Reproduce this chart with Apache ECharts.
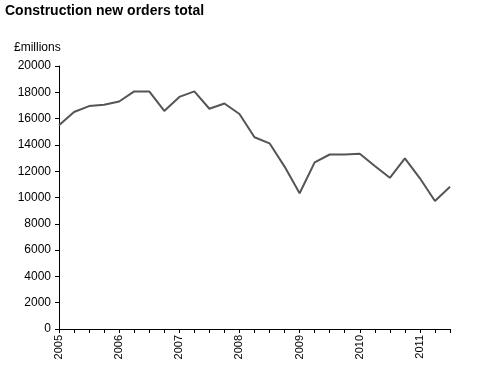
<!DOCTYPE html>
<html><head><meta charset="utf-8">
<script src="https://cdn.jsdelivr.net/npm/echarts@6/dist/echarts.min.js"></script>
<style>html,body{margin:0;padding:0;background:#fff}#c{width:489px;height:368px}</style>
</head><body><div id="c"></div>
<script>
var quarters = ['2005','Q2 2005','Q3 2005','Q4 2005','2006','Q2 2006','Q3 2006','Q4 2006','2007','Q2 2007','Q3 2007','Q4 2007','2008','Q2 2008','Q3 2008','Q4 2008','2009','Q2 2009','Q3 2009','Q4 2009','2010','Q2 2010','Q3 2010','Q4 2010','2011','Q2 2011','Q3 2011'];
var orders = [15500,16500,16950,17050,17300,18070,18070,16580,17650,18070,16750,17150,16350,14580,14120,12350,10320,12670,13270,13270,13330,12400,11500,12980,11460,9730,10820];
var yTicks = {min:0, max:20000, interval:2000};
var chart = echarts.init(document.getElementById('c'), null, {renderer:'canvas'});
chart.setOption({
  animation:false,
  backgroundColor:'#fff',
  title:[{text:'Construction new orders total',left:5,top:4,padding:0,textStyle:{fontFamily:'Liberation Sans',fontWeight:'bold',fontSize:14,color:'#000'}},
         {text:'£millions',left:14,top:42,padding:0,textStyle:{fontFamily:'Liberation Sans',fontWeight:'normal',fontSize:12,color:'#000'}}],
  grid:{left:59,top:66,right:39,bottom:39,containLabel:false},
  xAxis:{type:'category',data:quarters,boundaryGap:false,
    axisLine:{lineStyle:{color:'#000',width:1}},
    axisTick:{show:true,interval:0,length:4,inside:false,lineStyle:{color:'#000'}},
    axisLabel:{interval:3,rotate:90,fontFamily:'Liberation Sans',fontSize:11,color:'#000',margin:6,
      formatter:function(v){return v.indexOf('Q')===0?'':v;}},
    splitLine:{show:false}},
  yAxis:{type:'value',min:yTicks.min,max:yTicks.max,interval:yTicks.interval,
    axisLine:{show:true,lineStyle:{color:'#000',width:1}},
    axisTick:{show:true,length:4,lineStyle:{color:'#000'}},
    axisLabel:{fontFamily:'Liberation Sans',fontSize:12,color:'#000',margin:8,
      formatter:function(v){return String(v);}},
    splitLine:{show:false}},
  series:[{type:'line',data:orders,symbol:'none',lineStyle:{color:'#555555',width:2}}]
});
</script></body></html>
